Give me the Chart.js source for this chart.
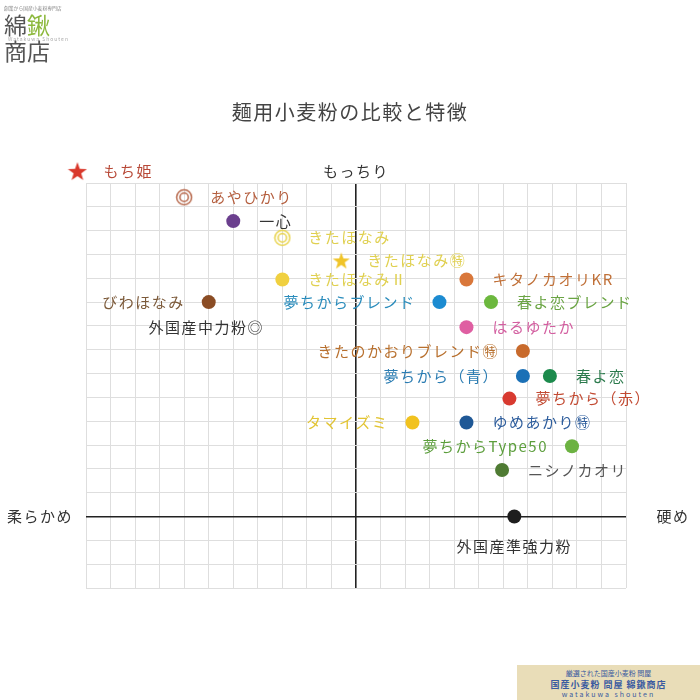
<!DOCTYPE html>
<html>
<head>
<meta charset="utf-8">
<script src="https://cdn.jsdelivr.net/npm/chart.js@4.4.1/dist/chart.umd.min.js"></script>
<style>
  body { margin: 0; background: #fff; font-family: "Noto Sans CJK JP", sans-serif; }
  #wrap { position: relative; width: 700px; height: 700px; overflow: hidden; }
  #c { position: absolute; left: 0; top: 0; }
  .t { position: absolute; white-space: nowrap; color: #333; }
  #title { left: 0; width: 700px; top: 97px; text-align: center; font-size: 20px; letter-spacing: 1.5px; color: #444; }
  #logo1 { left: 4px; top: 4px; font-size: 6px; color: #888; transform: scale(0.8); transform-origin: left top; }
  #logo2 { left: 4px; top: 12px; font-size: 23px; color: #555; line-height: 24px; }
  #logo2 span { color: #8cb83c; }
  #logo3 { left: 8px; top: 35px; font-size: 5px; color: #aaa; letter-spacing: 1px; }
  #logo4 { left: 4px; top: 33px; font-size: 23px; color: #555; }
  #badge { position: absolute; left: 517px; top: 665px; width: 183px; height: 35px; background: #e9ddb8; }
  #badge div { position: absolute; left: 0; width: 183px; text-align: center; color: #3a5aa0; white-space: nowrap; }
</style>
</head>
<body>
<div id="wrap">
  <canvas id="c" width="700" height="700"></canvas>
  <div class="t" id="title">麺用小麦粉の比較と特徴</div>
  <div class="t" id="logo1">創業から国産小麦粉専門店</div>
  <div class="t" id="logo2">綿<span>鍬</span></div>
  <div class="t" id="logo3">Watakuwa Shouten</div>
  <div class="t" id="logo4">商店</div>
  <div id="badge">
    <div style="top:3px;font-size:7px;">厳選された国産小麦粉 問屋</div>
    <div style="top:13px;font-size:9px;font-weight:bold;letter-spacing:1px;">国産小麦粉 問屋 綿鍬商店</div>
    <div style="top:24px;font-size:7px;letter-spacing:2px;">watakuwa shouten</div>
  </div>
</div>
<script>
// axis words
const axisTop = "もっちり";
const axisLeft = "柔らかめ";
const axisRight = "硬め";

// flours: hardness (x) and chewiness (y) in grid units
const names = [
  "もち姫", "あやひかり", "一心", "きたほなみ", "きたほなみ㊕", "きたほなみⅡ",
  "キタノカオリKR", "びわほなみ", "夢ちからブレンド", "春よ恋ブレンド", "外国産中力粉◎",
  "はるゆたか", "きたのかおりブレンド㊕", "夢ちから（青）", "春よ恋", "夢ちから（赤）",
  "タマイズミ", "ゆめあかり㊕", "夢ちからType50", "ニシノカオリ", "外国産準強力粉"
];
const hardness = [
  -11.35, -7.0, -5.0, -3.0, -0.6, -3.0,
  4.5, -6.0, 3.4, 5.5, -6.1,
  4.5, 6.8, 6.8, 7.9, 6.25,
  2.3, 4.5, 8.8, 5.95, 6.45
];
const chewiness = [
  14.5, 13.4, 12.4, 11.7, 10.75, 9.95,
  9.95, 9.0, 9.0, 9.0, 7.95,
  7.95, 6.95, 5.9, 5.9, 4.95,
  3.95, 3.95, 2.95, 1.95, 0
];

// marker kind, colours and label side (kept apart from the data)
const markKind = [
  "bigstar", "ring", "dot", "ring", "star", "dot",
  "dot", "dot", "dot", "dot", "none",
  "dot", "dot", "dot", "dot", "dot",
  "dot", "dot", "dot", "dot", "dot"
];
const markColor = [
  "#d9382b", "#b86a4e", "#6b3f8e", "#e8d34c", "#f0c428", "#f0d040",
  "#d9773a", "#8a4c24", "#1c8bd1", "#6cb83e", "#333",
  "#df5fa2", "#c86a2c", "#1b70b6", "#1c8a4c", "#d83a30",
  "#f1c21f", "#1f5896", "#6cb242", "#4f7b33", "#1e1e1e"
];
const textColor = [
  "#b84a38", "#b45e3e", "#333", "#e0d050", "#e0d050", "#e0d050",
  "#c07038", "#7c5a3a", "#2a8cbc", "#6aa443", "#333",
  "#d35fa0", "#b8702e", "#2a7cb2", "#2b7a4c", "#c24a32",
  "#e2c432", "#2c5c9c", "#5c9e3c", "#555", "#333"
];
const labelSide = [
  "r", "r", "r", "r", "r", "r",
  "r", "l", "l", "r", "c",
  "r", "l", "l", "r", "r",
  "l", "r", "l", "r", "b"
];

function makeRing(color) {
  const cv = document.createElement("canvas");
  cv.width = 18; cv.height = 18;
  const g = cv.getContext("2d");
  g.strokeStyle = color; g.lineWidth = 1.5;
  g.beginPath(); g.arc(9, 9, 7.5, 0, Math.PI * 2); g.stroke();
  g.beginPath(); g.arc(9, 9, 4.2, 0, Math.PI * 2); g.stroke();
  return cv;
}

function makeStar(color, size) {
  const cv = document.createElement("canvas");
  cv.width = size; cv.height = size;
  const g = cv.getContext("2d");
  const c = size / 2, R = size / 2, r = R * 0.4;
  g.fillStyle = color;
  g.beginPath();
  for (let i = 0; i < 10; i++) {
    const a = -Math.PI / 2 + i * Math.PI / 5;
    const rr = i % 2 === 0 ? R : r;
    g.lineTo(c + rr * Math.cos(a), c + 1 + rr * Math.sin(a));
  }
  g.closePath(); g.fill();
  return cv;
}

const pointStyles = markKind.map((k, i) => {
  if (k === "ring") return makeRing(markColor[i]);
  if (k === "star") return makeStar(markColor[i], 18);
  if (k === "bigstar") return makeStar(markColor[i], 20);
  return "circle";
});

// the big star sits outside the grid, so give it a larger radius
// to keep Chart.js from skipping it as out of area
const radii = markKind.map(k => (k === "none" ? 0 : k === "bigstar" ? 16 : 7));

const points = names.map((n, i) => ({ x: hardness[i], y: chewiness[i] }));

/* labels next to each point and the axis words */
const labelPlugin = {
  id: "labels",
  afterDatasetsDraw(chart) {
    const ctx = chart.ctx;
    const meta = chart.getDatasetMeta(0);
    ctx.save();
    ctx.font = '15px "Noto Sans CJK JP"';
    ctx.letterSpacing = "1.5px";
    ctx.textBaseline = "middle";
    meta.data.forEach((el, i) => {
      const side = labelSide[i];
      ctx.fillStyle = textColor[i];
      if (side === "r") {
        ctx.textAlign = "left";
        ctx.fillText(names[i], el.x + 26, el.y);
      } else if (side === "l") {
        ctx.textAlign = "right";
        ctx.fillText(names[i], el.x - 24, el.y);
      } else if (side === "b") {
        ctx.textAlign = "center";
        ctx.fillText(names[i], el.x, el.y + 30);
      } else {
        ctx.textAlign = "center";
        ctx.fillText(names[i], el.x, el.y);
      }
    });
    const xs = chart.scales.x, ys = chart.scales.y;
    ctx.fillStyle = "#333";
    ctx.textAlign = "center";
    ctx.fillText(axisTop, xs.getPixelForValue(0), ys.top - 12);
    ctx.fillText(axisLeft, 40, ys.getPixelForValue(0));
    ctx.fillText(axisRight, 673, ys.getPixelForValue(0));
    ctx.restore();
  }
};

new Chart(document.getElementById("c"), {
  type: "scatter",
  data: {
    datasets: [{
      data: points,
      pointStyle: pointStyles,
      pointRadius: radii,
      pointHoverRadius: radii,
      backgroundColor: markColor,
      borderColor: markColor,
      borderWidth: 0,
      clip: false
    }]
  },
  options: {
    responsive: false,
    animation: false,
    events: [],
    layout: { padding: { left: 86, right: 74, top: 183, bottom: 112 } },
    plugins: { legend: { display: false }, tooltip: { enabled: false } },
    scales: {
      x: {
        type: "linear", min: -11, max: 11,
        ticks: { display: false, stepSize: 1 },
        border: { display: false },
        grid: {
          drawTicks: false,
          color: c => (c.tick.value === 0 ? "#222" : "#dedede"),
          lineWidth: c => (c.tick.value === 0 ? 1.6 : 1)
        }
      },
      y: {
        type: "linear", min: -3, max: 14,
        ticks: { display: false, stepSize: 1 },
        border: { display: false },
        grid: {
          drawTicks: false,
          color: c => (c.tick.value === 0 ? "#222" : "#dedede"),
          lineWidth: c => (c.tick.value === 0 ? 1.6 : 1)
        }
      }
    }
  },
  plugins: [labelPlugin]
});
</script>
</body>
</html>
